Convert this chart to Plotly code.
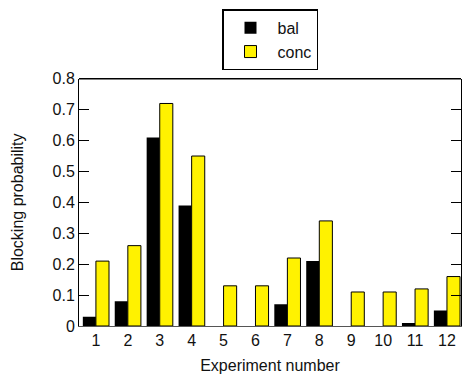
import plotly.graph_objects as go

experiments = [str(i) for i in range(1, 13)]
bal = [0.03, 0.08, 0.61, 0.39, 0.0, 0.0, 0.07, 0.21, 0.0, 0.0, 0.01, 0.05]
conc = [0.21, 0.26, 0.72, 0.55, 0.13, 0.13, 0.22, 0.34, 0.11, 0.11, 0.12, 0.16]
y_ticks = [0, 0.1, 0.2, 0.3, 0.4, 0.5, 0.6, 0.7, 0.8]
y_labels = ["0", "0.1", "0.2", "0.3", "0.4", "0.5", "0.6", "0.7", "0.8"]

FONT = "Liberation Sans, Arial, sans-serif"

fig = go.Figure()
fig.add_trace(go.Bar(
    x=list(range(1, 13)), y=bal, name="bal",
    marker=dict(color="#000000", line=dict(width=0)),
))
fig.add_trace(go.Bar(
    x=list(range(1, 13)), y=conc, name="conc",
    marker=dict(color="#FFF200", line=dict(color="#000000", width=1)),
))

fig.update_layout(
    width=462, height=374,
    margin=dict(l=79, r=0, t=70, b=48),
    paper_bgcolor="white", plot_bgcolor="white",
    barmode="group", bargap=0.18, bargroupgap=0.0,
    font=dict(family=FONT, size=16, color="#111"),
    showlegend=True,
    legend=dict(
        x=0.5, xanchor="center", y=0.975, yanchor="top", yref="container",
        orientation="v",
        bordercolor="#000", borderwidth=1.5, bgcolor="white",
        font=dict(size=16), itemwidth=44,
    ),
    xaxis=dict(
        range=[0.47, 12.44], tickmode="array",
        tickvals=list(range(1, 13)), ticktext=experiments,
        showgrid=False, zeroline=False, ticks="",
        showline=True, linecolor="#555", linewidth=1,
        tickfont=dict(size=16),
        title=dict(text="Experiment number", font=dict(size=16), standoff=11),
    ),
    yaxis=dict(
        range=[0, 0.8], tickmode="array", tickvals=y_ticks, ticktext=y_labels,
        ticks="inside", ticklen=10, tickcolor="#000", tickwidth=1,
        showline=True, linecolor="#000", linewidth=1, mirror="ticks",
        showgrid=False, zeroline=False,
        tickfont=dict(size=16),
        title=dict(text="Blocking probability", font=dict(size=16), standoff=24),
    ),
)

# top frame line of the plotting area
fig.add_shape(type="line", xref="paper", yref="paper",
              x0=0, x1=1, y0=1, y1=1, line=dict(color="#000", width=1.5))

fig.write_html("out.html")
